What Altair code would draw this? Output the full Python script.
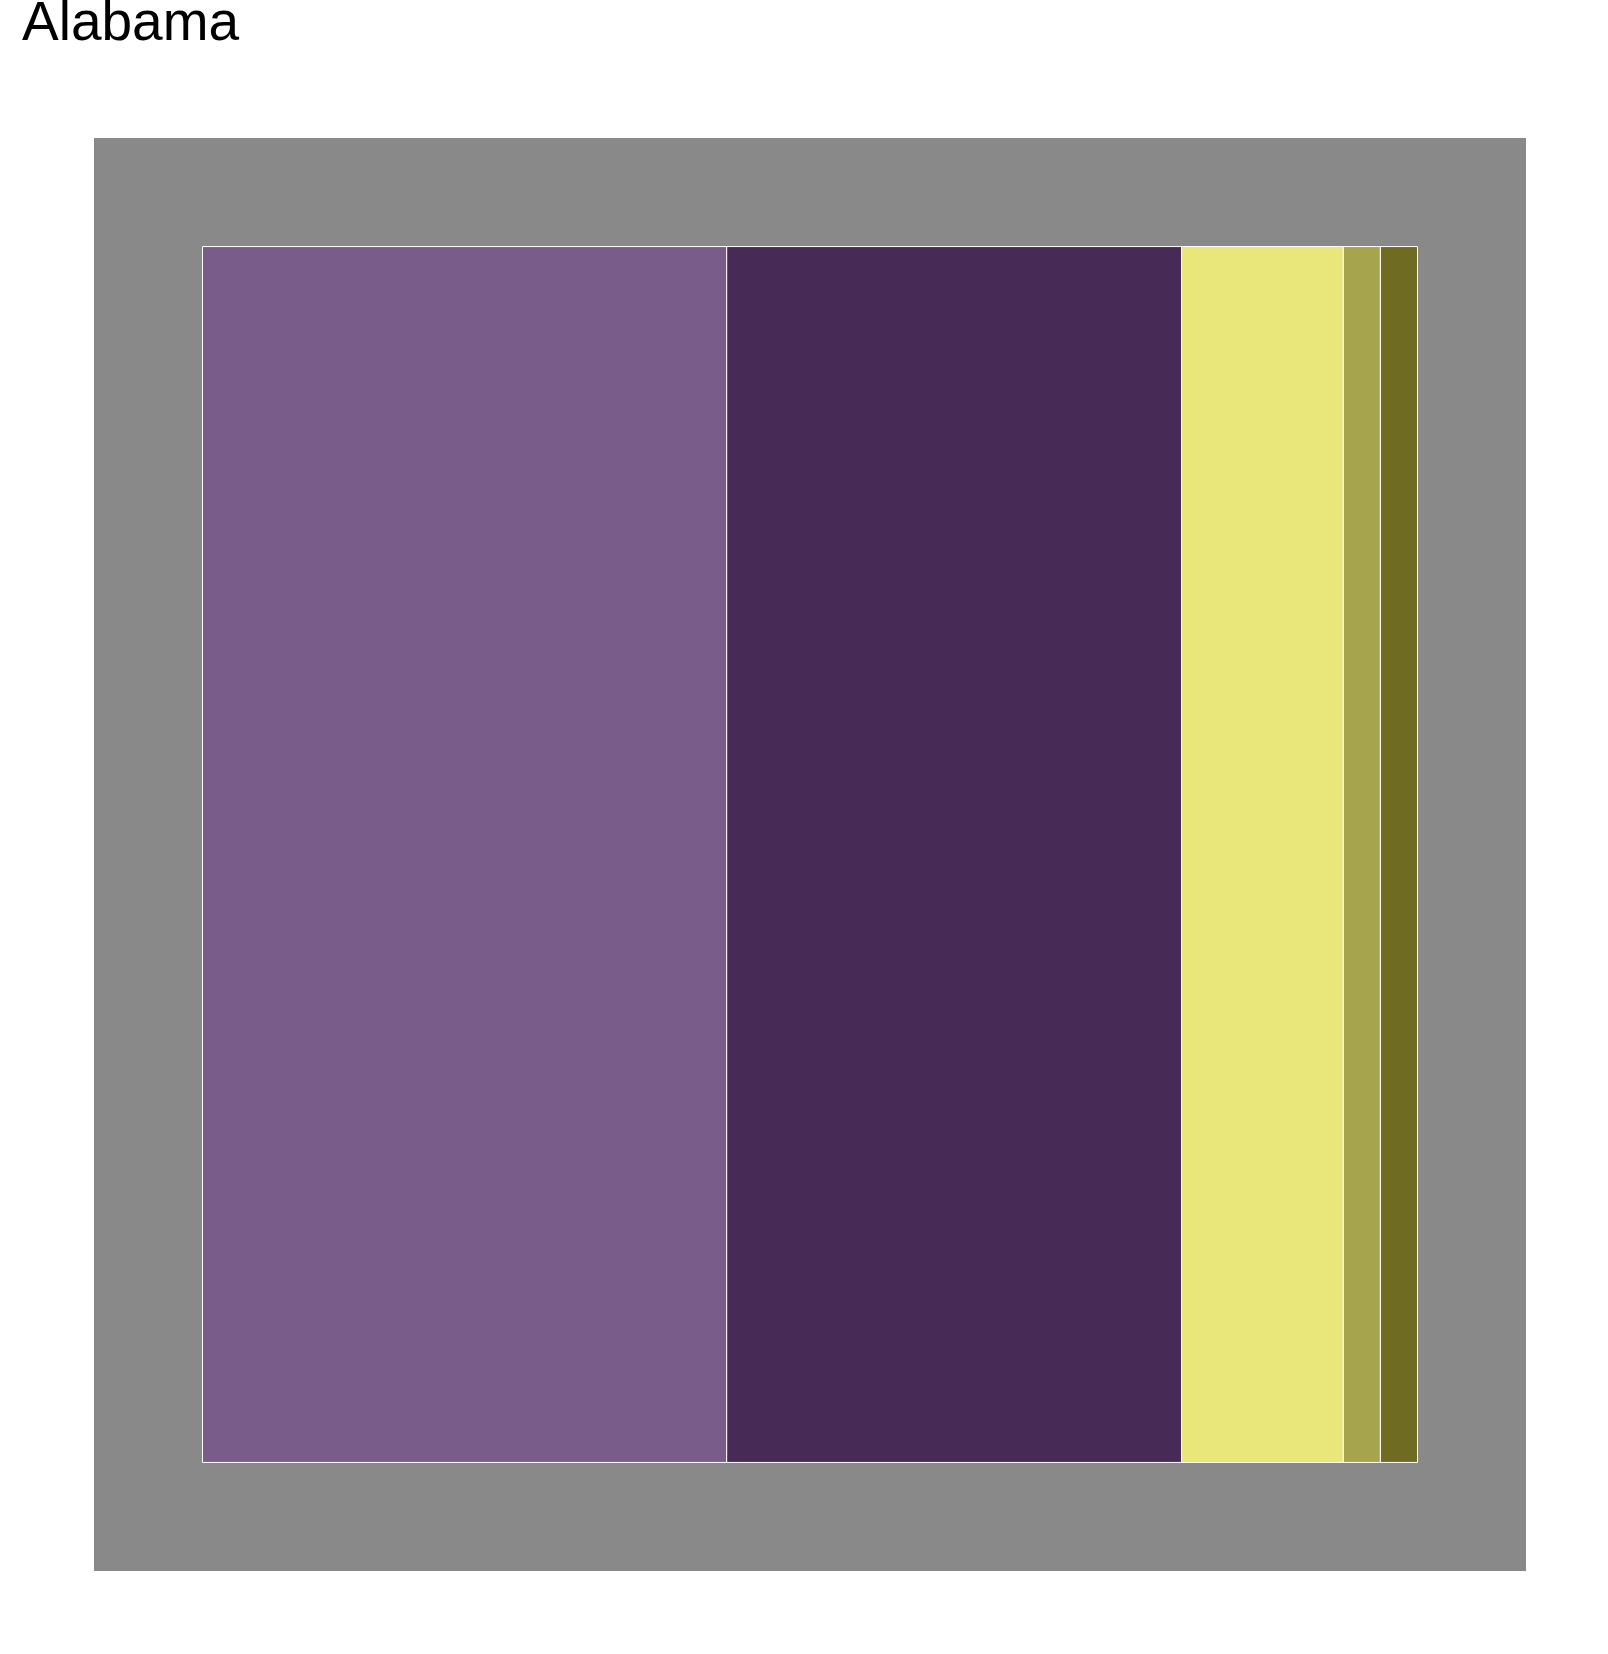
import altair as alt
import pandas as pd

title_text = "Alabama"
categories = ["Group 1", "Group 2", "Group 3", "Group 4", "Group 5"]
values = [43.1, 37.4, 13.3, 3.05, 3.05]
colors = ["#7A5C8A", "#482A56", "#E9E67A", "#A6A54E", "#6F6B23"]

df = pd.DataFrame({"category": categories, "value": values, "order": list(range(len(categories)))})

pad = 108.5 / 1215
dom = [-pad, 1 + pad]
sx = alt.Scale(domain=dom, nice=False, zero=False)
sy = alt.Scale(domain=dom, nice=False, zero=False, reverse=True)

chart = alt.Chart(df).transform_joinaggregate(
    total="sum(value)"
).transform_window(
    cum="sum(value)", sort=[alt.SortField("order")], frame=[None, 0]
).transform_calculate(
    x0="(datum.cum - datum.value) / datum.total",
    x1="datum.cum / datum.total",
    y0="0",
    y1="1",
).mark_rect(stroke="white", strokeWidth=1).encode(
    x=alt.X("x0:Q", scale=sx, axis=None),
    x2="x1:Q",
    y=alt.Y("y0:Q", scale=sy, axis=None),
    y2="y1:Q",
    color=alt.Color("category:N", scale=alt.Scale(domain=categories, range=colors), legend=None),
).properties(
    width=1432,
    height=1433,
    autosize=alt.AutoSizeParams(type="none"),
    padding={"left": 94, "top": 138, "right": 82, "bottom": 83},
    title=alt.TitleParams(title_text, anchor="start", fontSize=55, font="Liberation Sans",
                          fontWeight="normal", color="black", dx=-72, offset=43,
                          baseline="alphabetic"),
).configure_view(fill="#898989", stroke=None)

chart.save("out.html", embed_options={"renderer": "svg", "actions": False})
